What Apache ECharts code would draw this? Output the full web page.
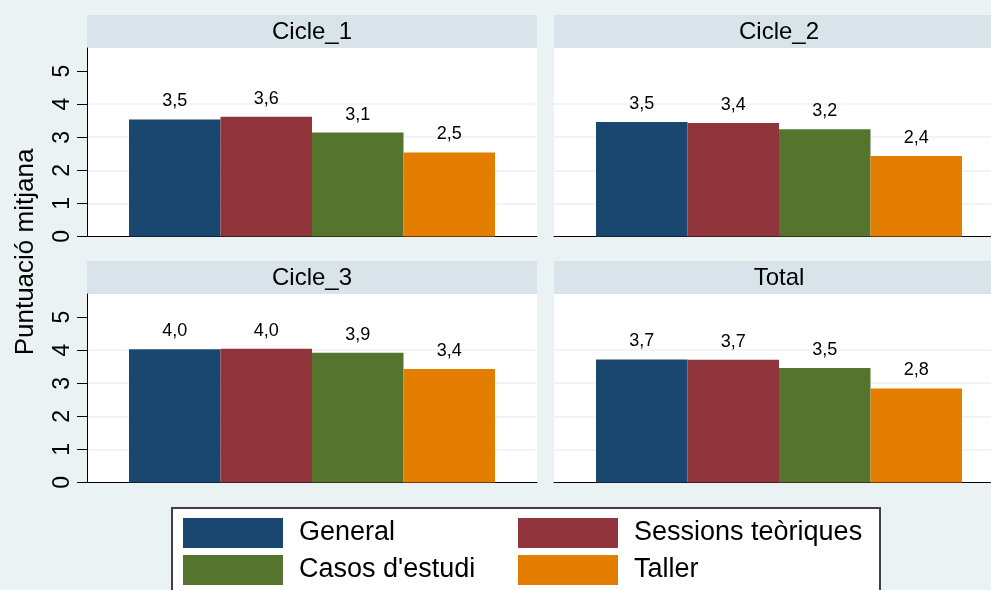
<!DOCTYPE html>
<html><head><meta charset="utf-8">
<script src="https://cdn.jsdelivr.net/npm/echarts@6/dist/echarts.min.js"></script>
<style>html,body{margin:0;padding:0;background:#eaf2f3;} #c{width:991px;height:590px;}</style>
</head><body><div id="c"></div>
<script>
// ---- data ----
const panels = ['Cicle_1', 'Cicle_2', 'Cicle_3', 'Total'];
const seriesNames = ['General', 'Sessions teòriques', "Casos d'estudi", 'Taller'];
const general  = [3.54, 3.46, 4.03, 3.72];
const sessions = [3.62, 3.43, 4.04, 3.71];
const casos    = [3.14, 3.24, 3.92, 3.46];
const taller   = [2.54, 2.43, 3.43, 2.84];
const yTicks = [0, 1, 2, 3, 4, 5];
const yTitle = 'Puntuació mitjana';

// ---- styling / layout ----
const FONT = 'Liberation Sans, Arial, sans-serif';
const colors = ['#1a476f', '#90353b', '#55752f', '#e37e00'];
const values = [general, sessions, casos, taller];
const gridPos = [
  { left: 87,  top: 48,  width: 450, height: 188.4 },
  { left: 554, top: 48,  width: 450, height: 188.4 },
  { left: 87,  top: 294, width: 450, height: 188.4 },
  { left: 554, top: 294, width: 450, height: 188.4 }
];
const HEADER_H = 33;
const gridCol = '#eaf2f3';
const clear = 'rgba(0,0,0,0)';

const grids = gridPos.map(g => Object.assign({
  show: true, backgroundColor: '#ffffff', borderWidth: 0,
  containLabel: false, outerBoundsMode: 'none'
}, g));
const xAxes = panels.map((p, i) => ({
  type: 'category', gridIndex: i, data: [p],
  axisLine: { show: true, lineStyle: { color: '#000', width: 1 } },
  axisTick: { show: false }, axisLabel: { show: false }, splitLine: { show: false }
}));
const yAxes = panels.map((p, i) => {
  const leftCol = (i % 2 === 0);
  return {
    type: 'value', gridIndex: i, min: 0, max: 5.7, interval: 1,
    axisLine: { show: leftCol, lineStyle: { color: '#000', width: 1 } },
    axisTick: { show: leftCol, length: 10, customValues: yTicks, lineStyle: { color: '#000', width: 1 } },
    axisLabel: { show: leftCol, customValues: yTicks, rotate: 90, margin: 13, fontSize: 23, color: '#000', fontFamily: FONT },
    splitLine: { show: true, lineStyle: { color: [clear, gridCol, gridCol, gridCol, gridCol, clear, clear], width: 1.5 } }
  };
});
const series = [];
panels.forEach((p, i) => {
  seriesNames.forEach((name, s) => {
    series.push({
      type: 'bar', name: name, xAxisIndex: i, yAxisIndex: i,
      data: [values[s][i]], barWidth: 91.5, barGap: '0%',
      itemStyle: { color: colors[s] },
      label: {
        show: true, position: 'top', distance: 9, fontSize: 18, color: '#000', fontFamily: FONT,
        formatter: d => d.value.toFixed(1).replace('.', ',')
      },
      emphasis: { disabled: true }, animation: false
    });
  });
});

const graphics = [];
gridPos.forEach((g, i) => {
  graphics.push({ type: 'rect', shape: { x: g.left, y: g.top - HEADER_H, width: g.width, height: HEADER_H }, style: { fill: '#d8e4ea' }, silent: true });
  graphics.push({ type: 'text', x: g.left + g.width / 2, y: g.top - HEADER_H / 2 + 1,
    style: { text: panels[i], font: '24px ' + FONT, fill: '#000', textAlign: 'center', textVerticalAlign: 'middle' }, silent: true });
});
graphics.push({ type: 'text', x: 26, y: 252, rotation: Math.PI / 2,
  style: { text: yTitle, font: '26px ' + FONT, fill: '#000', textAlign: 'center', textVerticalAlign: 'middle' }, silent: true });
graphics.push({ type: 'rect', shape: { x: 172, y: 508, width: 708, height: 120 }, style: { fill: '#fff', stroke: '#404040', lineWidth: 2 }, silent: true });

// legend: 2 x 2 layout, one legend component per cell
const legendCells = [
  { left: 183, top: 518 }, { left: 518, top: 518 },
  { left: 183, top: 555 }, { left: 518, top: 555 }
];
const legends = seriesNames.map((name, k) => ({
  orient: 'horizontal', left: legendCells[k].left, top: legendCells[k].top,
  padding: 0, itemWidth: 100, itemHeight: 30, icon: 'rect', selectedMode: false,
  data: [name],
  textStyle: { fontSize: 27, color: '#000', fontFamily: FONT, padding: [0, 0, 0, 11] }
}));

const chart = echarts.init(document.getElementById('c'), null, { renderer: 'canvas' });
chart.setOption({
  backgroundColor: '#eaf2f3',
  animation: false,
  grid: grids, xAxis: xAxes, yAxis: yAxes, series: series,
  legend: legends,
  graphic: { elements: graphics }
});
</script></body></html>
